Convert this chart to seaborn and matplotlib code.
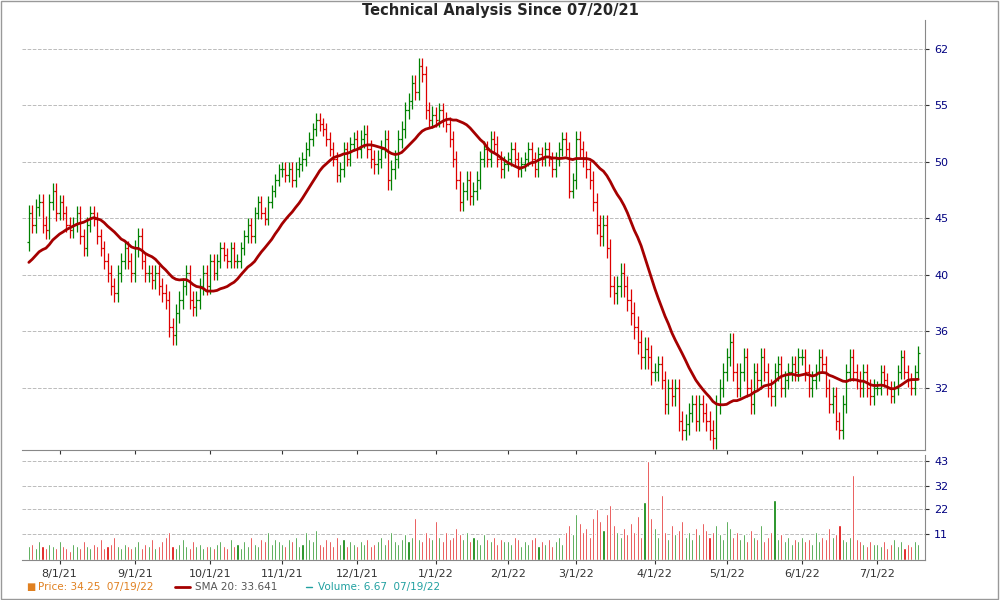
import numpy as np
import pandas as pd
import matplotlib.pyplot as plt
import seaborn as sns

# closes for the 19 sessions before the window (for the SMA start)
pre_close = [39, 39.5, 40, 40.5, 41, 40, 39.5, 40, 41, 41.5, 40, 40.5, 41, 42, 41, 40.5, 41, 42, 42.5]

close = [
    # Jul 21
    45, 44, 45.5, 46, 44, 43.5, 46, 47, 45,
    # Aug
    46, 45, 44, 43.5, 44, 45, 43, 42, 44, 45, 44.5, 43, 42, 41, 40, 39, 38.5, 40, 41, 42, 41, 40,
    # Sep
    42, 43, 41, 40, 40, 39.5, 40, 39, 38.5, 38, 36, 35.5, 37, 38, 39, 40, 38, 37.5, 38, 39, 40, 39,
    # Oct
    41, 40, 41, 42, 41.5, 41, 42, 41, 41, 42, 43, 44, 43, 45, 46, 45, 44.5, 46, 47, 48, 49,
    # Nov
    49, 48.5, 49, 48, 49, 49.5, 50, 51, 52, 53, 54, 53.5, 53, 52, 51, 50, 48.5, 49, 51, 50, 51.5, 52,
    # Dec
    51, 52, 52.5, 51, 50, 49.5, 50, 51, 52, 48, 49, 50, 52, 53, 55, 56, 58, 57, 60, 59, 55, 54, 54.5,
    # Jan 22
    54, 55, 54, 53.5, 52, 50, 48, 46, 47, 48, 46.5, 47, 48, 50, 51, 50, 52, 51.5, 50, 49, 49.5,
    # Feb
    50, 51, 50, 49, 49.5, 50, 51, 50, 49, 50.5, 50, 51, 50, 49, 50, 51, 52, 51, 47, 48,
    # Mar
    52, 51, 50, 49, 48, 46, 44, 43, 44, 42, 39, 38.5, 39, 40, 39, 38, 37, 36, 35, 34, 34.5, 34, 33,
    # Apr
    33, 33.5, 32.5, 31, 32, 31.5, 32, 30, 29.5, 29.8, 30.5, 31, 30, 31, 30.5, 30, 29.5, 29, 31, 32, 33,
    # May
    34, 35, 33, 32, 33, 34, 32, 31, 33, 32.5, 34, 33, 32, 31.5, 33, 33.5, 32, 32.5, 33, 33.5, 33, 34,
    # Jun
    34, 33, 32, 32.5, 33, 34, 33.5, 32, 31, 31.5, 30, 29.5, 31, 33, 34, 33, 32.5, 32, 33, 32, 31.5, 32,
    # Jul
    32, 33, 32.5, 32, 31.5, 32, 33, 34, 33, 32.5, 32, 33, 34.25,
]

# typical daily range per month (Jul 21 .. Jul 22)
month_range = [1.6, 1.4, 1.5, 1.2, 1.5, 2.0, 1.8, 1.5, 1.8, 1.3, 1.3, 1.2, 1.0]

volume = [
    6, 7, 5, 8, 6, 5, 7, 6, 5,
    8, 6, 5, 4, 7, 6, 5, 8, 6, 5, 7, 6, 9, 5, 6, 7, 10, 6, 5, 7, 6, 5,
    6, 8, 5, 7, 6, 9, 5, 6, 8, 10, 12, 6, 5, 7, 9, 6, 5, 8, 6, 7, 5, 6,
    6, 5, 7, 8, 6, 5, 9, 6, 7, 5, 8, 6, 10, 7, 6, 9, 8, 12, 7, 9, 8,
    7, 6, 9, 8, 10, 6, 7, 12, 9, 8, 13, 7, 6, 9, 8, 6, 10, 7, 9, 6, 8, 7,
    6, 8, 7, 9, 6, 7, 8, 10, 7, 9, 12, 8, 7, 9, 11, 8, 10, 18, 9, 8, 12, 10, 9,
    17, 10, 8, 12, 9, 10, 14, 11, 9, 12, 8, 10, 9, 7, 11, 9, 8, 10, 7, 9, 8,
    8, 7, 10, 9, 6, 8, 7, 9, 10, 6, 8, 7, 9, 6, 8, 10, 7, 12, 15, 11,
    20, 16, 12, 14, 10, 18, 22, 17, 13, 20, 24, 15, 12, 10, 14, 11, 16, 12, 19, 10, 25, 43, 18,
    14, 10, 28, 12, 9, 15, 11, 13, 17, 10, 12, 9, 14, 11, 16, 13, 10, 12, 15, 11, 9,
    17, 14, 10, 12, 9, 11, 8, 13, 10, 9, 15, 8, 10, 12, 26, 9, 11, 8, 10, 7, 9, 8,
    10, 8, 9, 7, 12, 8, 10, 9, 14, 10, 11, 15, 9, 8, 10, 37, 9, 8, 7, 6, 8, 7,
    7, 6, 8, 5, 7, 9, 6, 8, 5, 7, 6, 8, 6.67,
]

n = min(len(close), len(volume))
dates = pd.bdate_range("2021-07-20", periods=n)
df = pd.DataFrame({"date": dates, "close": close[:n], "volume": volume[:n]})
df["x"] = np.arange(n)
df["open"] = [pre_close[-1]] + close[:n - 1]
mi = np.clip((df["date"].dt.year - 2021) * 12 + df["date"].dt.month - 7, 0, len(month_range) - 1)
rng = np.array(month_range)[mi]
df["high"] = np.maximum(df["open"], df["close"]) + rng * 0.45
df["low"] = np.minimum(df["open"], df["close"]) - rng * 0.45
allc = pd.Series(pre_close + close[:n])
df["sma"] = allc.rolling(20).mean().iloc[len(pre_close):].values
up = df["close"] >= df["open"]
cols = np.where(up, "#008000", "#dd0000")

sns.set_style("white")
fig = plt.figure(figsize=(10, 6), dpi=100)
fig.patches.append(plt.Rectangle((0.001, 0.002), 0.997, 0.996, transform=fig.transFigure,
                                 fill=False, edgecolor="#999999", lw=1))
ax = fig.add_axes([0.022, 0.25, 0.903, 0.717])
axv = fig.add_axes([0.022, 0.067, 0.903, 0.175], sharex=ax)

# price bars
ax.vlines(df["x"], df["low"], df["high"], colors=cols, lw=0.9)
ax.hlines(df["open"], df["x"] - 0.5, df["x"], colors=cols, lw=0.9)
ax.hlines(df["close"], df["x"], df["x"] + 0.5, colors=cols, lw=0.9)
sns.lineplot(data=df, x="x", y="sma", ax=ax, color="#a50000", lw=2)

ax.set_yscale("log")
ax.set_ylim(28.35, 65.6)
yt = [32 * (62 / 32) ** (k / 6) for k in range(7)]
ax.set_yticks(yt)
ax.set_yticklabels(["32", "36", "40", "45", "50", "55", "62"])
ax.minorticks_off()
ax.yaxis.tick_right()
ax.grid(axis="y", color="#bbbbbb", ls="--", lw=0.7)
ax.set_xlabel("")
ax.set_ylabel("")
fig.text(0.5, 0.983, "Technical Analysis Since 07/20/21", fontsize=10.5, fontweight="bold",
         ha="center", va="center")

# volume
axv.bar(df["x"], df["volume"], color=cols, width=0.6)
axv.set_ylim(0, 45.6)
axv.set_yticks([11, 22, 32, 43])
axv.yaxis.tick_right()
axv.grid(axis="y", color="#bbbbbb", ls="--", lw=0.7)
axv.set_xlim(-2, n + 1)

firsts = df.groupby([df["date"].dt.year, df["date"].dt.month])["x"].first().values[1:]
labels = [f"{d.month}/1/{d.year % 100}" for d in df["date"].iloc[firsts]]
axv.set_xticks(firsts)
axv.set_xticklabels(labels)
plt.setp(ax.get_xticklabels(), visible=False)

for a in (ax, axv):
    a.tick_params(labelsize=8, length=3, colors="#333333", right=True, bottom=True)
    a.spines["top"].set_visible(False)
    a.spines["left"].set_visible(False)
    for s in a.spines.values():
        s.set_color("#888888")
    for t in a.get_yticklabels():
        t.set_color("#000080")

# legend row
fig.text(0.026, 0.021, "■", color="#e08020", fontsize=7, va="center")
fig.text(0.038, 0.021, "Price: 34.25  07/19/22", color="#e08020", fontsize=7.5, va="center")
fig.lines.append(plt.Line2D([0.175, 0.19], [0.021, 0.021], color="#a50000", lw=2, transform=fig.transFigure))
fig.text(0.195, 0.021, "SMA 20: 33.641", color="#555555", fontsize=7.5, va="center")
fig.lines.append(plt.Line2D([0.306, 0.312], [0.021, 0.021], color="#20a0a0", lw=1, transform=fig.transFigure))
fig.text(0.318, 0.021, "Volume: 6.67  07/19/22", color="#20a0a0", fontsize=7.5, va="center")

fig.savefig("out.png", dpi=100)
